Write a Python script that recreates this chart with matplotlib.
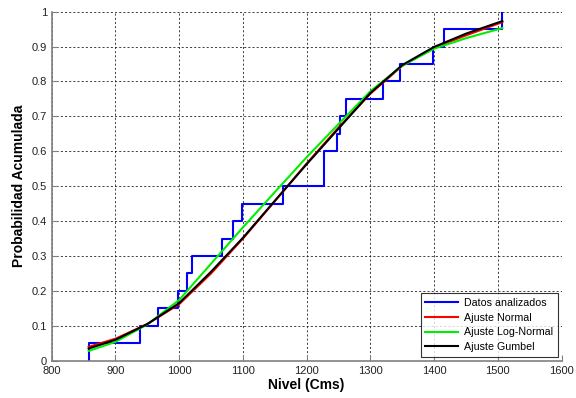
import numpy as np
import matplotlib
matplotlib.use('Agg')
import matplotlib.pyplot as plt

plt.rcParams['font.family'] = ['Liberation Sans', 'DejaVu Sans']

# datos observados (niveles ordenados, cms)
niveles = [858, 938, 967, 998, 1012, 1020, 1067, 1084, 1099, 1163,
           1227, 1227, 1247, 1253, 1261, 1320, 1346, 1398, 1416, 1507]

# curvas ajustadas
x_aj = [858, 900, 950, 1000, 1050, 1100, 1150, 1200, 1250, 1300, 1350, 1400, 1450, 1507]
p_normal = [0.040, 0.063, 0.105, 0.162, 0.250, 0.350, 0.457, 0.565, 0.668, 0.765, 0.845, 0.897, 0.932, 0.970]
p_lognormal = [0.028, 0.054, 0.104, 0.174, 0.278, 0.382, 0.483, 0.583, 0.678, 0.772, 0.845, 0.894, 0.924, 0.953]
p_gumbel = [0.035, 0.060, 0.105, 0.165, 0.255, 0.352, 0.458, 0.563, 0.665, 0.767, 0.847, 0.899, 0.937, 0.973]

# ecdf empirica
xs = np.array(niveles, dtype=float)
n = len(xs)
ux, cnt = np.unique(xs, return_counts=True)
fx = np.cumsum(cnt) / n
step_x = np.concatenate([[ux[0]], ux])
step_y = np.concatenate([[0.0], fx])

fig = plt.figure(figsize=(5.76, 3.98), dpi=100)
ax = fig.add_axes([0.0898, 0.0937, 0.8852, 0.877])

ax.plot(step_x, step_y, drawstyle='steps-post', color='#0000ff', lw=1.5, label='Datos analizados')
ax.plot(x_aj, p_normal, color='#ff0000', lw=1.5, label='Ajuste Normal')
ax.plot(x_aj, p_lognormal, color='#00ee00', lw=1.5, label='Ajuste Log-Normal')
ax.plot(x_aj, p_gumbel, color='black', lw=1.5, label='Ajuste Gumbel')

ax.set_xlim(800, 1600)
ax.set_ylim(0, 1)
ax.set_xticks(np.arange(800, 1601, 100))
ax.set_yticks(np.arange(0, 1.01, 0.1))
ax.set_yticklabels(['0', '0.1', '0.2', '0.3', '0.4', '0.5', '0.6', '0.7', '0.8', '0.9', '1'])

ax.grid(True, color='#222222', linestyle=(0, (2.5, 2.5)), linewidth=0.6)
for s in ['top', 'right']:
    ax.spines[s].set_visible(False)
for s in ['left', 'bottom']:
    ax.spines[s].set_color('#808080')
    ax.spines[s].set_linewidth(1.2)
ax.tick_params(direction='in', length=4, color='#808080', labelsize=8, labelcolor='#222222')

ax.set_xlabel('Nivel (Cms)', fontsize=10, fontweight='bold', labelpad=2)
ax.set_ylabel('Probabilidad Acumulada', fontsize=10, fontweight='bold', labelpad=4)

leg = ax.legend(loc='lower right', fontsize=7.7, frameon=True, fancybox=False,
                edgecolor='black', borderaxespad=0.35, handlelength=3.0,
                labelspacing=0.45, borderpad=0.45, handletextpad=0.6)
leg.get_frame().set_linewidth(0.8)

fig.savefig('out.png', dpi=100)
